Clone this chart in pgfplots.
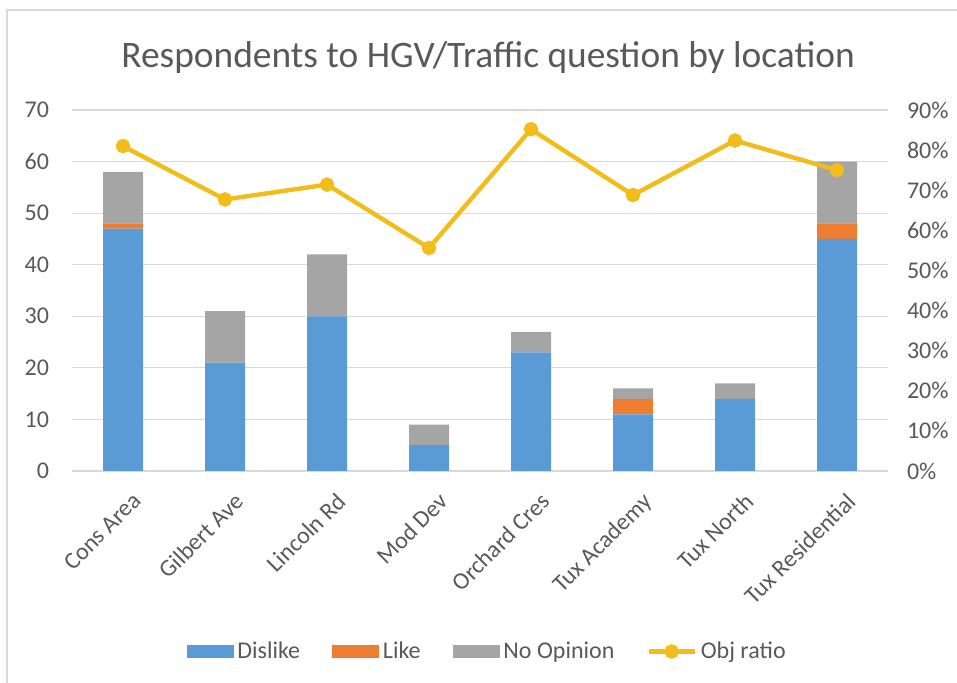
\documentclass[border=0pt]{standalone}
\usepackage{pgfplots}
\pgfplotsset{compat=1.18}
\usepackage{pgfplotstable}
\usepackage{fontspec}
\setmainfont{Carlito}

\definecolor{cblue}{HTML}{5B9BD5}
\definecolor{corange}{HTML}{ED7D31}
\definecolor{cgray}{HTML}{A5A5A5}
\definecolor{cyellow}{HTML}{F2BC1A}
\definecolor{ctext}{HTML}{595959}
\definecolor{cgrid}{HTML}{D9D9D9}

% counts per location, ratio = dislike / total
\pgfplotstableread{
x dislike like noop ratio
0 47 1 10 81.0
1 21 0 10 67.7
2 30 0 12 71.4
3 5  0 4  55.6
4 23 0 4  85.2
5 11 3 2  68.8
6 14 0 3  82.4
7 45 3 12 75.0
}\hgvdata

\begin{document}
\begin{tikzpicture}[font=\fontsize{12}{14}\selectfont, text=ctext]
\pgfplotsset{
    base/.style={
        scale only axis,
        width=408pt, height=180.5pt,
        xmin=-0.5, xmax=7.5,
        axis line style={draw=none},
        major tick length=0pt,
        /pgf/number format/assume math mode=true,
        tick label style={text=ctext, font=\fontsize{12}{14}\selectfont},
    },
}
\begin{axis}[
    base,
    name=main,
    ybar stacked,
    bar width=20pt,
    ymin=0, ymax=70,
    ytick={0,10,...,70},
    ymajorgrids=true,
    grid style={cgrid, line width=0.6pt},
    xtick=data,
    xticklabels={Cons Area, Gilbert Ave, Lincoln Rd, Mod Dev, Orchard Cres, Tux Academy, Tux North, Tux Residential},
    x tick label style={rotate=45, anchor=north east, inner sep=1pt, xshift=-3pt, yshift=-9pt},
    yticklabel style={xshift=-8pt},
    title={Respondents to HGV/Traffic question by location},
    title style={font=\fontsize{18.7}{22}\selectfont, anchor=base, at={(0.51,1)}, yshift=15.5pt},
]
\addplot[fill=cblue, draw=none] table[x=x, y=dislike] {\hgvdata};
\addplot[fill=corange, draw=none] table[x=x, y=like] {\hgvdata};
\addplot[fill=cgray, draw=none] table[x=x, y=noop] {\hgvdata};
\end{axis}

\begin{axis}[
    base,
    axis x line=none,
    axis y line*=right,
    ymin=0, ymax=90,
    ytick={0,10,...,90},
    yticklabel={\pgfmathprintnumber{\tick}\%},
    yticklabel style={xshift=6pt},
    legend columns=4,
    legend style={
        at={(0.51,-0.5)}, anchor=center,
        draw=none, fill=none,
        font=\fontsize{12}{14}\selectfont,
        /tikz/every even column/.append style={column sep=14pt},
    },
    legend cell align=left,
]
\addlegendimage{legend image code/.code={\fill[cblue] (0pt,-3pt) rectangle (23pt,3pt);}}
\addlegendentry{Dislike}
\addlegendimage{legend image code/.code={\fill[corange] (0pt,-3pt) rectangle (23pt,3pt);}}
\addlegendentry{Like}
\addlegendimage{legend image code/.code={\fill[cgray] (0pt,-3pt) rectangle (23pt,3pt);}}
\addlegendentry{No Opinion}
\addplot[cyellow, line width=2.2pt, mark=*, mark size=2.5pt,
    legend image code/.code={
        \draw[cyellow, line width=2.2pt] (0pt,0pt) -- (23pt,0pt);
        \fill[cyellow] (11.5pt,0pt) circle (2.5pt);}]
    table[x=x, y=ratio] {\hgvdata};
\addlegendentry{Obj ratio}
\end{axis}

% thin frame edges visible at left and top of the reference
\draw[cgrid, line width=0.7pt] ([shift={(-32.5pt,-106pt)}]main.south west) -- ++(0pt,336.5pt) -- ++(480pt,0pt);

\pgfresetboundingbox
\path (main.south west) ++(-36pt,-106pt) rectangle ++(478.5pt,341.5pt);
\end{tikzpicture}
\end{document}
